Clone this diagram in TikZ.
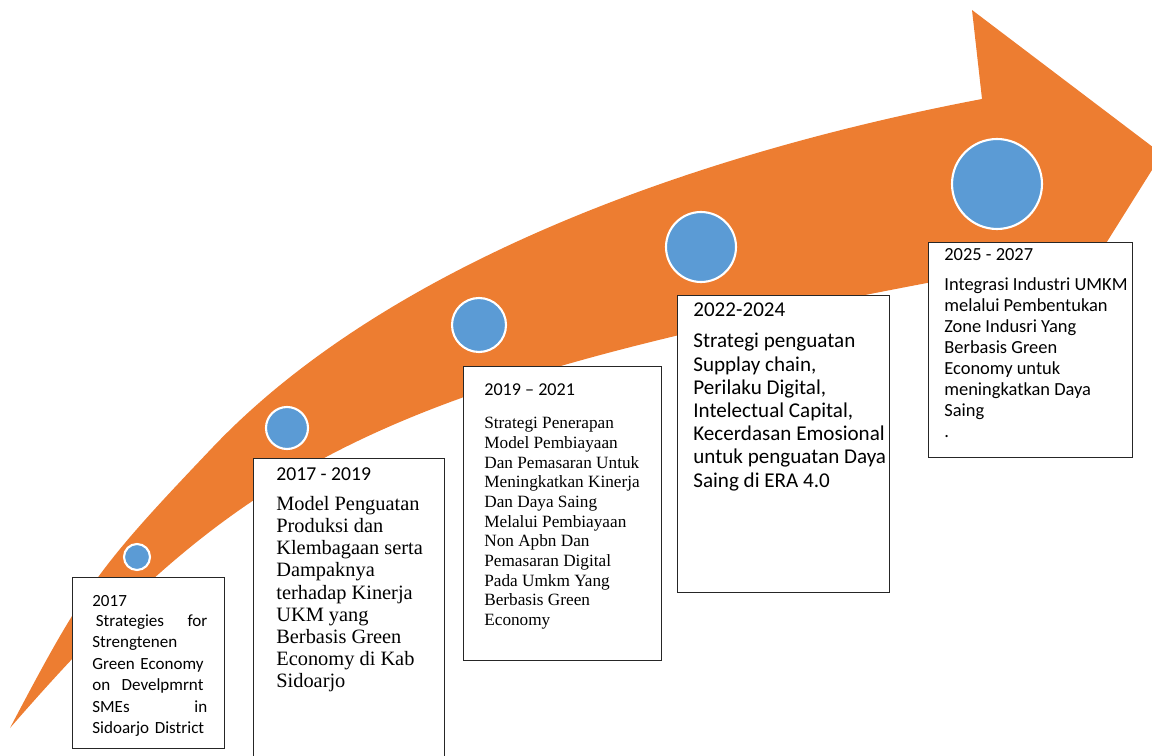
\documentclass[tikz,border=0pt]{standalone}
\usepackage{fontspec}
\setmainfont{Liberation Serif}
\newfontfamily\calibri{Carlito}
\definecolor{arroworange}{HTML}{ED7D31}
\definecolor{dotblue}{HTML}{5B9BD5}

\begin{document}
\begin{tikzpicture}[x=0.02cm, y=-0.02cm,
        dot/.style={circle, fill=dotblue, draw=white, line width=1.2pt, inner sep=0pt},
        box/.style={draw=black!85, line width=0.7pt, fill=white, anchor=north west, inner sep=0pt},
        txt/.style={anchor=north west, inner sep=0pt, align=left}]
        \useasboundingbox (0,0) rectangle (1152,756);
        \clip (0,0) rectangle (1152,756);

        % 画出箭头
        \fill[arroworange] (10,728) .. controls (85,585.5) and (98,567.75) .. (213,447)
            .. controls (383,268.5) and (682,156) .. (982,99)
            -- (972,10) -- (1162,154) -- (1078,288) -- (1040,262) -- (927,283)
            .. controls (377,387.5) and (240,463.5) .. (10,728) -- cycle;

        % 箭头上的圆点
        \node[dot, minimum size=0.52cm] (c1) at (137,557) {};
        \node[dot, minimum size=0.84cm] (c2) at (287,428) {};
        \node[dot, minimum size=1.08cm] (c3) at (479,325) {};
        \node[dot, minimum size=1.40cm] (c4) at (701,247) {};
        \node[dot, minimum size=1.80cm] (c5) at (997,184) {};

        % 方框
        \node[box, minimum width=3.04cm, minimum height=3.42cm] (b1) at (72,577) {};
        \node[box, minimum width=3.82cm, minimum height=6.80cm] (b2) at (253,458) {};
        \node[box, minimum width=3.96cm, minimum height=5.88cm] (b3) at (463,366) {};
        \node[box, minimum width=4.24cm, minimum height=5.94cm] (b4) at (677,295) {};
        \node[box, minimum width=4.08cm, minimum height=4.30cm] (b5) at (928,242) {};

        % 方框里的文字
        \node[txt, text width=2.3cm, font=\calibri\fontsize{9.7}{12.2}\selectfont] (t1) at (92,595)
            {2017\\[-0.8pt] \hspace*{2pt}Strategies\hfill for\\ Strengtenen\\ Green~Economy\\ on\ \ Develpmrnt\\ SMEs\hfill in\\ Sidoarjo~District};

        \node[txt, font=\calibri\fontsize{11.2}{13}\selectfont] (h2) at (276,467) {2017 - 2019};
        \node[txt, font=\fontsize{11.6}{12.6}\selectfont] (t2) at (276,496)
            {Model Penguatan\\ Produksi dan\\ Klembagaan serta\\ Dampaknya\\ terhadap Kinerja\\ UKM yang\\ Berbasis Green\\ Economy di Kab\\ Sidoarjo};

        \node[txt, font=\calibri\fontsize{10.3}{12}\selectfont] (h3) at (484,383) {2019 – 2021};
        \node[txt, font=\fontsize{9.8}{11.2}\selectfont] (t3) at (484,417)
            {Strategi Penerapan\\ Model Pembiayaan\\ Dan Pemasaran Untuk\\ Meningkatkan Kinerja\\ Dan Daya Saing\\ Melalui Pembiayaan\\ Non Apbn Dan\\ Pemasaran Digital\\ Pada Umkm Yang\\ Berbasis Green\\ Economy};

        \node[txt, font=\calibri\fontsize{12}{14}\selectfont] (h4) at (693,302) {2022-2024};
        \node[txt, font=\calibri\fontsize{12}{13.2}\selectfont] (t4) at (693,333)
            {Strategi penguatan\\ Supplay chain,\\ Perilaku Digital,\\ Intelectual Capital,\\ Kecerdasan Emosional\\ untuk penguatan Daya\\ Saing di ERA 4.0};

        \node[txt, font=\calibri\fontsize{10.5}{12}\selectfont] (h5) at (944,248) {2025 - 2027};
        \node[txt, font=\calibri\fontsize{10.5}{12}\selectfont] (t5) at (944,277)
            {Integrasi Industri UMKM\\ melalui Pembentukan\\ Zone Indusri Yang\\ Berbasis Green\\ Economy untuk\\ meningkatkan Daya\\ Saing\\ .};

\end{tikzpicture}
\end{document}
